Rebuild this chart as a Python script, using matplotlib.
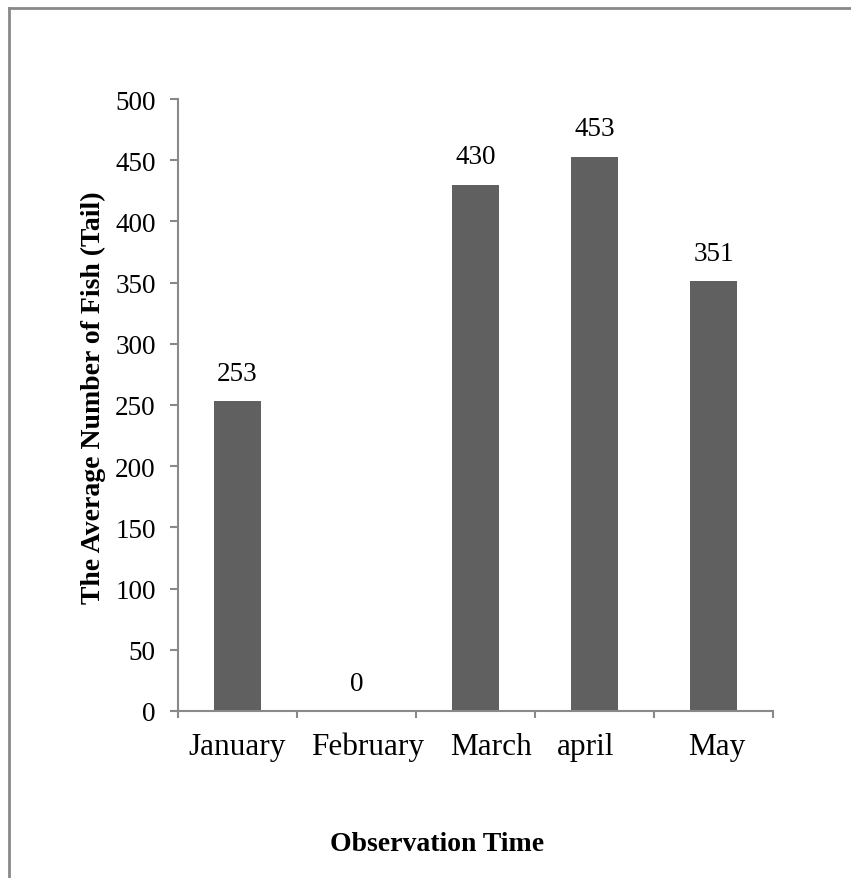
import numpy as np
import matplotlib.pyplot as plt
from matplotlib.transforms import ScaledTranslation
from matplotlib.lines import Line2D

plt.rcParams.update({
    "font.family": "Liberation Serif",
    "font.size": 19.5,
})

months = ["January", "February", "March", "april", "May"]
fish = [253, 0, 430, 453, 351]
yticks = list(range(0, 501, 50))

# label nudges in points (the original labels are not exactly centred)
label_dx = [0, 8, 11, -6.5, 2]

grey = "#898989"
bar_col = "#606060"

fig = plt.figure(figsize=(8.51, 8.79), dpi=100)
ax = fig.add_axes([178 / 851, 1 - 712 / 879, 595 / 851, 612 / 879])

x = np.arange(len(months))
bars = ax.bar(x, fish, width=0.4, color=bar_col, zorder=2)
for xi, v in zip(x, fish):
    ax.annotate(str(v), (xi, v), xytext=(0, 11), textcoords="offset points",
                ha="center", va="bottom", fontsize=19.5)

ax.set_xlim(-0.5, len(months) - 0.5)
ax.set_ylim(0, 500)
ax.set_yticks(yticks)

ax.set_xticks(x)
ax.set_xticklabels(months, fontsize=22.5)
ax.set_xticks(np.arange(len(months) + 1) - 0.5, minor=True)
ax.tick_params(axis="x", which="major", length=0, pad=15)
ax.tick_params(axis="x", which="minor", length=5, width=1.5, color=grey)
ax.tick_params(axis="y", length=6, width=1.5, color=grey, pad=10)
for lab, dx in zip(ax.get_xticklabels(), label_dx):
    lab.set_transform(lab.get_transform() + ScaledTranslation(dx / 72, 0, fig.dpi_scale_trans))

for s in ["top", "right"]:
    ax.spines[s].set_visible(False)
for s in ["left", "bottom"]:
    ax.spines[s].set_color(grey)
    ax.spines[s].set_linewidth(1.5)

fig.text(437 / 851, 1 - 845 / 879, "Observation Time", ha="center", va="center",
         fontsize=20, fontweight="bold")
fig.text(93 / 851, 1 - 398 / 879, "The Average Number of Fish (Tail)", ha="center",
         va="center", rotation=90, fontsize=20, fontweight="bold")

# frame lines (left and top) of the cropped chart area
fig.add_artist(Line2D([8.5 / 851, 8.5 / 851], [0, 1 - 8.5 / 879], color=grey, lw=2,
                      transform=fig.transFigure))
fig.add_artist(Line2D([8.5 / 851, 1], [1 - 8.5 / 879, 1 - 8.5 / 879], color=grey, lw=2,
                      transform=fig.transFigure))

fig.savefig("out.png", dpi=100)
